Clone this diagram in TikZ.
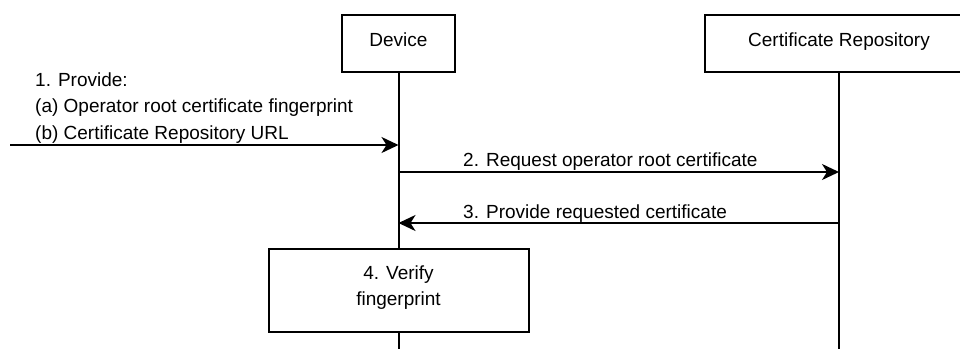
\documentclass[tikz,border=0pt]{standalone}
\usepackage{fontspec}
\setmainfont{Liberation Sans}
\usetikzlibrary{arrows.meta}
\begin{document}
\begin{tikzpicture}[x=1pt,y=-1pt,
  box/.style={draw, line width=2pt, fill=white, inner sep=0pt},
  txt/.style={anchor=base, inner sep=0pt, font=\fontsize{19}{26}\selectfont},
  lbl/.style={anchor=base west, inner sep=0pt, font=\fontsize{19}{26}\selectfont},
  msg/.style={line width=2pt, -{Stealth[length=17pt,width=16pt,inset=5pt]}},
  life/.style={line width=2pt}]
\useasboundingbox (0,0) rectangle (960,349);
\clip (0,0) rectangle (960,349);

% lifeline heads
\node[box, minimum width=113pt, minimum height=57pt] (dev) at (398.5,43.5) {};
\node[txt] (devtxt) at (398.5,46) {Device};
\node[box, minimum width=268pt, minimum height=57pt] (rep) at (839,43.5) {};
\node[txt] (reptxt) at (839,46) {Certificate Repository};

% activity box on the device lifeline
\node[box, minimum width=260pt, minimum height=83pt] (ver) at (398.5,290.5) {};
\node[txt] (vera) at (398.5,279) {4. Verify};
\node[txt] (verb) at (398.5,305) {fingerprint};

% lifelines
\coordinate (devend) at (398.5,349);
\coordinate (repend) at (839,349);
\draw[life] (dev.south) -- (ver.north);
\draw[life] (ver.south) -- (devend);
\draw[life] (rep.south) -- (repend);

% message levels
\coordinate (src) at (10,145);
\coordinate (y2) at (0,172);
\coordinate (y3) at (0,223);

% messages
\draw[msg] (src) -- (dev |- src);
\draw[msg] (dev |- y2) -- (rep |- y2);
\draw[msg] (rep |- y3) -- (dev |- y3);

% message labels
\node[lbl] (l1a) at (35,86) {1. Provide:};
\node[lbl] (l1b) at (35,112.5) {(a) Operator root certificate fingerprint};
\node[lbl] (l1c) at (35,139) {(b) Certificate Repository URL};
\node[lbl] (l2) at (463,166) {2. Request operator root certificate};
\node[lbl] (l3) at (463,218) {3. Provide requested certificate};
\end{tikzpicture}
\end{document}
